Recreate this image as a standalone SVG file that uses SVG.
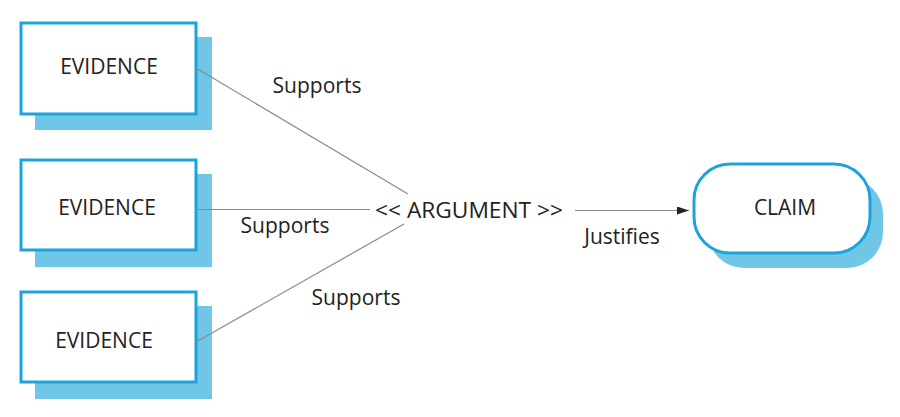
<svg xmlns="http://www.w3.org/2000/svg" width="900" height="417" viewBox="0 0 900 417">
<defs>
<style>
.shadow{fill:#6fc6e6;stroke:none}
.box{fill:#ffffff;stroke:#1aa3dc;stroke-width:3}
.lbl{font-family:"Open Sans","Liberation Sans",sans-serif;font-size:21px;fill:#222222;text-anchor:middle}
.conn{stroke:#8a8a8a;stroke-width:1.2;fill:none}
</style>
<marker id="arr" markerWidth="12" markerHeight="8" refX="12" refY="4" orient="auto" markerUnits="userSpaceOnUse">
<path d="M0,0 L12,4 L0,8 Z" fill="#222222"/>
</marker>
</defs>
<rect width="900" height="417" fill="#ffffff"/>
<g id="evidence1">
<rect class="shadow" x="35" y="37" width="177" height="93"/>
<rect class="box" x="21" y="23" width="175" height="91"/>
<text class="lbl" x="109" y="74">EVIDENCE</text>
</g>
<g id="evidence2">
<rect class="shadow" x="35" y="174" width="177" height="93"/>
<rect class="box" x="21" y="160" width="175" height="90"/>
<text class="lbl" x="107" y="215">EVIDENCE</text>
</g>
<g id="evidence3">
<rect class="shadow" x="35" y="306" width="177" height="93"/>
<rect class="box" x="21" y="292" width="175" height="90"/>
<text class="lbl" x="104" y="348">EVIDENCE</text>
</g>
<g id="claim">
<rect class="shadow" x="708" y="178" width="175" height="90" rx="36" ry="36"/>
<rect class="box" x="694" y="164" width="176" height="89" rx="36" ry="36"/>
<text class="lbl" x="785" y="215">CLAIM</text>
</g>
<g id="argument">
<text class="lbl" x="469" y="218" textLength="188" lengthAdjust="spacingAndGlyphs">&lt;&lt; ARGUMENT &gt;&gt;</text>
</g>
<g id="connectors">
<line class="conn" x1="196" y1="68" x2="408" y2="194"/>
<line class="conn" x1="196" y1="209.5" x2="370" y2="209.5"/>
<line class="conn" x1="196" y1="342" x2="404" y2="224"/>
<line class="conn" x1="575" y1="210.5" x2="689" y2="210.5" stroke="#222222" marker-end="url(#arr)"/>
<text class="lbl" x="317" y="93">Supports</text>
<text class="lbl" x="285" y="233">Supports</text>
<text class="lbl" x="356" y="305">Supports</text>
<text class="lbl" x="622" y="244">Justifies</text>
</g>
</svg>
